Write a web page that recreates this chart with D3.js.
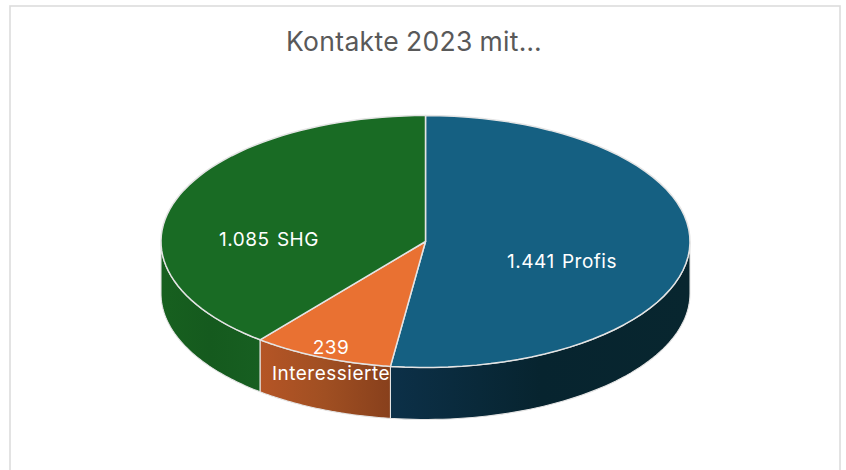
<!DOCTYPE html>
<html><head><meta charset="utf-8">
<script src="https://cdn.jsdelivr.net/npm/d3@7/dist/d3.min.js"></script>
<style>html,body{margin:0;padding:0;background:#fff;overflow:hidden}svg{display:block}text{font-family:Inter,"Noto Sans",sans-serif}</style>
</head><body><svg id="c" width="846" height="470"></svg>
<script>
const chartTitle = "Kontakte 2023 mit…";
const categories = ["Profis", "Interessierte", "SHG"];
const values = [1441, 239, 1085];
const topColors = ["#156082", "#E97132", "#196B24"];
const sideStops = [["#0c3048", "#07242f", "#08262f"], ["#b55526", "#a04f22", "#88401c"], ["#17601f", "#155a1e", "#175f21"]];

const W = 846, H = 470, cx = 425.5, cy = 241.5, rx = 264.5, ry = 126, depth = 52;
const labelAnchors = [[562, 268], [331, 354], [269, 246]];

const svg = d3.select("#c");
const fmt = d3.formatLocale({decimal: ",", thousands: ".", grouping: [3], currency: ["", "€"]}).format(",d");
const sx = d3.scaleLinear().domain([-1, 1]).range([cx - rx, cx + rx]);
const sy = d3.scaleLinear().domain([-1, 1]).range([cy - ry, cy + ry]);

svg.append("rect").attr("x", 10).attr("y", 6).attr("width", 830).attr("height", H + 20)
  .attr("fill", "#fff").attr("stroke", "#dcdcdc").attr("stroke-width", 1.6);

svg.append("text").attr("x", 414).attr("y", 50.5).attr("text-anchor", "middle")
  .attr("font-size", 26.5).attr("fill", "#595959").attr("letter-spacing", 0.35).attr("word-spacing", -1).text(chartTitle);

const arcs = d3.pie().value(d => d).sort(null)(values);
const defs = svg.append("defs");
const px = a => sx(Math.sin(a)), py = a => sy(-Math.cos(a));
const sampled = (a0, a1) => d3.range(0, 61).map(i => a0 + (a1 - a0) * i / 60);

arcs.forEach((d, i) => {
  const a0 = Math.max(d.startAngle, Math.PI / 2), a1 = Math.min(d.endAngle, Math.PI * 1.5);
  if (a1 <= a0) return;
  const id = "side" + i;
  const g = defs.append("linearGradient").attr("id", id).attr("gradientUnits", "userSpaceOnUse")
    .attr("x1", Math.min(px(a0), px(a1))).attr("x2", Math.max(px(a0), px(a1))).attr("y1", 0).attr("y2", 0);
  sideStops[i].forEach((c, k) => g.append("stop").attr("offset", k / 2).attr("stop-color", c));
  const top = sampled(a0, a1).map(a => [px(a), py(a)]);
  const bottom = sampled(a1, a0).map(a => [px(a), py(a) + depth]);
  svg.append("path").attr("d", d3.line()(top.concat(bottom)) + "Z").attr("fill", `url(#${id})`)
    .attr("stroke", "#e4e4e4").attr("stroke-width", 1.1).attr("stroke-linejoin", "round");
});

arcs.forEach((d, i) => {
  const rim = sampled(d.startAngle, d.endAngle).map(a => [px(a), py(a)]);
  svg.append("path").attr("d", d3.line()([[cx, cy]].concat(rim)) + "Z").attr("fill", topColors[i])
    .attr("stroke", "#e4e4e4").attr("stroke-width", 1.5).attr("stroke-linejoin", "round");
});

const label = svg.append("g").attr("fill", "#fff").attr("font-size", 19).attr("letter-spacing", 0.5)
  .attr("word-spacing", 1.5).attr("text-anchor", "middle");
categories.forEach((c, i) => {
  const [x, y] = labelAnchors[i];
  if (c === "Interessierte") {
    label.append("text").attr("x", x).attr("y", y).text(fmt(values[i]));
    label.append("text").attr("x", x).attr("y", y + 26).text(c);
  } else {
    label.append("text").attr("x", x).attr("y", y).text(fmt(values[i]) + " " + c);
  }
});
</script></body></html>
